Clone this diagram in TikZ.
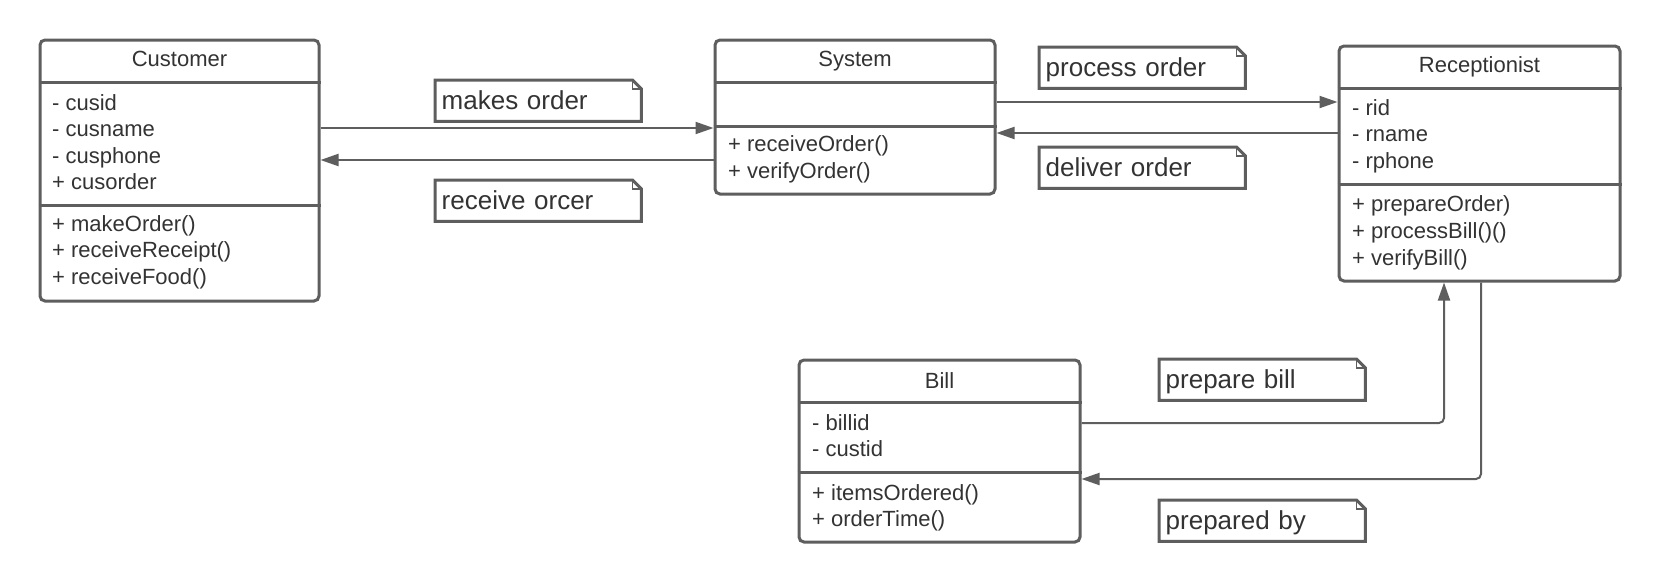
\documentclass[tikz,border=0pt]{standalone}
\usepackage{fontspec}
\setmainfont{Liberation Sans}
\usetikzlibrary{arrows.meta}
\definecolor{ln}{HTML}{5E5E5E}
\definecolor{tx}{HTML}{333333}
\newcommand\umlnote[4]{%
  \node[note, anchor=north west] (#1) at (#2,#3) {#4};
  \draw[notebd] (#1.north west) -- ([xshift=-9pt]#1.north east) -- ([yshift=-9pt]#1.north east) -- (#1.south east) -- (#1.south west) -- cycle;
  \draw[notefold] ([xshift=-9pt]#1.north east) -- ([xshift=-9pt,yshift=-9pt]#1.north east) -- ([yshift=-9pt]#1.north east);
}
\begin{document}
\begin{tikzpicture}[x=1pt,y=-1pt,
  cls/.style={draw=ln, line width=3pt, rounded corners=5pt, fill=white, inner sep=0pt},
  row/.style={anchor=base west, inner sep=0pt, text=tx, font=\fontsize{22}{26}\selectfont},
  ttl/.style={anchor=base, inner sep=0pt, text=tx, font=\fontsize{22}{26}\selectfont},
  note/.style={inner xsep=6.5pt, inner ysep=0pt, text width=193pt, minimum height=41pt, align=left,
    text height=22pt, text depth=5pt, text=tx, font=\fontsize{26}{30}\selectfont},
  notebd/.style={draw=ln, line width=3pt, line join=miter},
  notefold/.style={draw=ln, line width=1.5pt},
  sep/.style={draw=ln, line width=3pt},
  conn/.style={draw=ln, line width=2pt, rounded corners=5pt},
  arr/.style={conn, -{Triangle[length=18pt,width=12pt]}},
]
\useasboundingbox[fill=white] (0,0) rectangle (1660,581);

% Customer
\node[cls, minimum width=279pt, minimum height=261pt] (cust) at (179.5,170.5) {};
\draw[sep] (cust.west |- 0,82) -- (cust.east |- 0,82);
\draw[sep] (cust.west |- 0,205) -- (cust.east |- 0,205);
\node[ttl] (custT) at (179.5,66) {Customer};
\node[row] (c1) at (52,110) {- cusid};
\node[row] (c2) at (52,136.5) {- cusname};
\node[row] (c3) at (52,163) {- cusphone};
\node[row] (c4) at (52,189.5) {+ cusorder};
\node[row] (c5) at (52,231) {+ makeOrder()};
\node[row] (c6) at (52,257.5) {+ receiveReceipt()};
\node[row] (c7) at (52,284) {+ receiveFood()};

% System
\node[cls, minimum width=280pt, minimum height=154pt] (sys) at (855,117) {};
\draw[sep] (sys.west |- 0,82) -- (sys.east |- 0,82);
\draw[sep] (sys.west |- 0,126) -- (sys.east |- 0,126);
\node[ttl] (sysT) at (855,66) {System};
\node[row] (s1) at (728,151.5) {+ receiveOrder()};
\node[row] (s2) at (728,178) {+ verifyOrder()};

% Receptionist
\node[cls, minimum width=281pt, minimum height=235pt] (rec) at (1479.5,163.5) {};
\draw[sep] (rec.west |- 0,88) -- (rec.east |- 0,88);
\draw[sep] (rec.west |- 0,184) -- (rec.east |- 0,184);
\node[ttl] (recT) at (1479.5,72) {Receptionist};
\node[row] (r1) at (1352,115) {- rid};
\node[row] (r2) at (1352,141.5) {- rname};
\node[row] (r3) at (1352,168) {- rphone};
\node[row] (r4) at (1352,211) {+ prepareOrder)};
\node[row] (r5) at (1352,238) {+ processBill()()};
\node[row] (r6) at (1352,265) {+ verifyBill()};

% Bill
\node[cls, minimum width=281pt, minimum height=182pt] (bill) at (939.5,451) {};
\draw[sep] (bill.west |- 0,402) -- (bill.east |- 0,402);
\draw[sep] (bill.west |- 0,472) -- (bill.east |- 0,472);
\node[ttl] (billT) at (939.5,388) {Bill};
\node[row] (b1) at (812,430) {- billid};
\node[row] (b2) at (812,456) {- custid};
\node[row] (b3) at (812,500) {+ itemsOrdered()};
\node[row] (b4) at (812,526) {+ orderTime()};

% Notes
\umlnote{nmo}{435}{80}{makes order}
\umlnote{nro}{435}{180}{receive orcer}
\umlnote{npo}{1039}{47}{process order}
\umlnote{ndo}{1039}{147}{deliver order}
\umlnote{npb}{1159}{359}{prepare bill}
\umlnote{npy}{1159}{500}{prepared by}

% Connectors
\draw[arr] (cust.east |- 0,128) -- (sys.west |- 0,128);
\draw[arr] (sys.west |- 0,160) -- (cust.east |- 0,160);
\draw[arr] (sys.east |- 0,102) -- (rec.west |- 0,102);
\draw[arr] (rec.west |- 0,133) -- (sys.east |- 0,133);
\draw[arr] (bill.east |- 0,423) -| (rec.south -| 1444,0);
\draw[arr] (rec.south -| 1481,0) |- (bill.east |- 0,479);
\end{tikzpicture}
\end{document}
